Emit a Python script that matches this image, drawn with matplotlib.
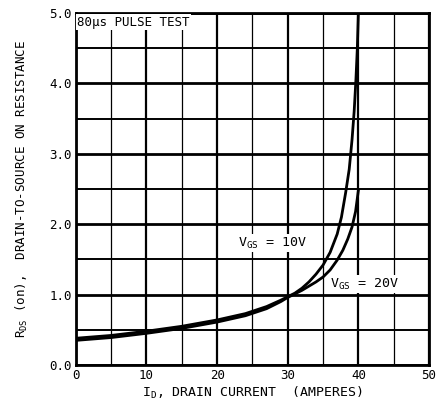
import matplotlib.pyplot as plt
from matplotlib.ticker import MultipleLocator

plt.rcParams.update(
    {
        "font.family": "DejaVu Sans Mono",
        "font.size": 9,
        "mathtext.fontset": "custom",
        "mathtext.rm": "DejaVu Sans Mono",
        "mathtext.it": "DejaVu Sans Mono",
    }
)

# V_GS = 10V curve
id_10 = [0, 5, 10, 15, 20, 24, 27, 29, 30, 31, 32, 33, 34, 35, 36, 37,
         37.6, 38.2, 38.7, 39.1, 39.4, 39.65, 39.85, 40]
r_10 = [0.38, 0.42, 0.48, 0.55, 0.64, 0.73, 0.83, 0.92, 0.97, 1.02, 1.09, 1.18,
        1.29, 1.42, 1.60, 1.86, 2.10, 2.45, 2.78, 3.20, 3.60, 4.05, 4.50, 5.0]

# V_GS = 20V curve
id_20 = [0, 5, 10, 15, 20, 24, 27, 29, 30, 31, 32, 33, 34, 35, 36, 37,
         37.8, 38.5, 39.1, 39.6, 40]
r_20 = [0.35, 0.39, 0.45, 0.52, 0.61, 0.70, 0.80, 0.90, 0.96, 1.01, 1.06, 1.12,
        1.18, 1.25, 1.35, 1.49, 1.63, 1.79, 1.96, 2.18, 2.48]

fig = plt.figure(figsize=(4.36, 4.04), dpi=100)
ax = fig.add_axes([0.174, 0.0965, 0.81, 0.8715])

ax.plot(id_10, r_10, color="black", lw=2.0, zorder=3)
ax.plot(id_20, r_20, color="black", lw=2.0, zorder=3)

ax.set_xlim(0, 50)
ax.set_ylim(0, 5)
ax.xaxis.set_major_locator(MultipleLocator(10))
ax.xaxis.set_minor_locator(MultipleLocator(5))
ax.yaxis.set_major_locator(MultipleLocator(1))
ax.yaxis.set_minor_locator(MultipleLocator(0.5))
ax.yaxis.set_major_formatter(lambda v, p: f"{v:.1f}")

ax.grid(axis="x", which="major", color="black", lw=1.6)
ax.grid(axis="x", which="minor", color="black", lw=0.9)
ax.grid(axis="y", which="major", color="black", lw=2.0)
ax.grid(axis="y", which="minor", color="black", lw=1.4)
ax.tick_params(which="both", length=0, pad=3, labelsize=9)
for s in ax.spines.values():
    s.set_linewidth(2.0)

box = dict(facecolor="white", edgecolor="none", pad=1)
ax.text(0.004, 0.992, "80\u03bcs PULSE TEST", transform=ax.transAxes,
        ha="left", va="top", fontsize=9, bbox=box, zorder=4)
ax.text(23.0, 1.73, r"V$_{\rm GS}$ = 10V", ha="left", va="center",
        fontsize=9.5, bbox=box, zorder=4)
ax.text(36.0, 1.15, r"V$_{\rm GS}$ = 20V", ha="left", va="center",
        fontsize=9.5, bbox=box, zorder=4)

ax.set_xlabel(r"I$_{\rm D}$, DRAIN CURRENT  (AMPERES)", fontsize=9.5, labelpad=2)
ax.set_ylabel(r"R$_{\rm DS}$ (on),  DRAIN-TO-SOURCE ON RESISTANCE",
              fontsize=9, labelpad=14)

fig.savefig("out.png", dpi=100)
